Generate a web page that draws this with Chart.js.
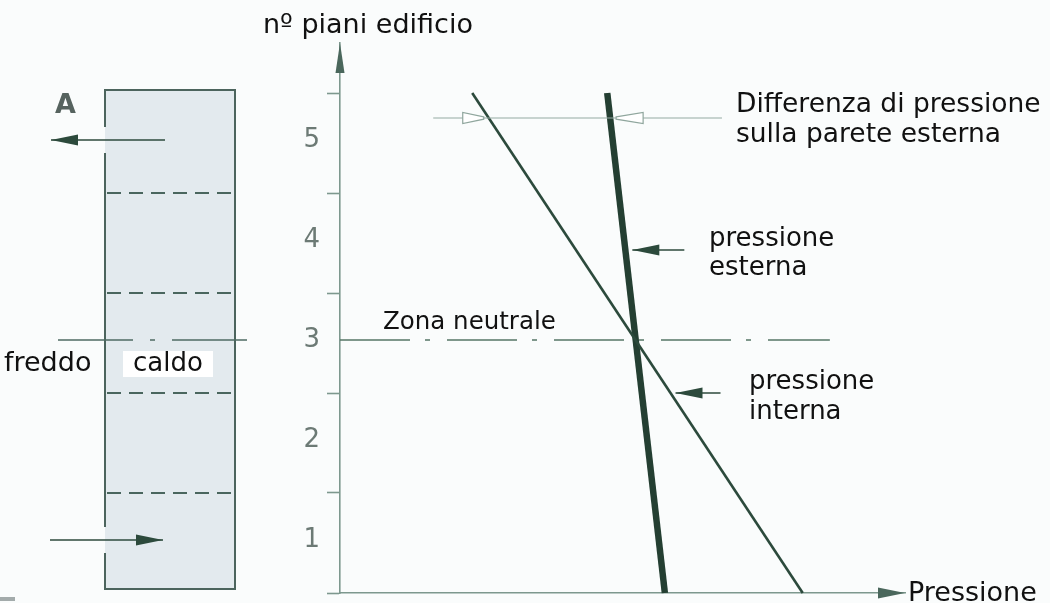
<!DOCTYPE html>
<html><head><meta charset="utf-8">
<script src="https://cdn.jsdelivr.net/npm/chart.js@4/dist/chart.umd.min.js"></script>
<style>html,body{margin:0;padding:0;background:#fafcfc;overflow:hidden}#wrap{width:1050px;height:603px;position:relative}</style>
</head><body><div id="wrap"><canvas id="c" width="1050" height="603"></canvas></div>
<script>
// ---- data ----
const floorLabels = [1, 2, 3, 4, 5];               // nº piani edificio
const floorBounds = [0.5, 1.5, 2.5, 3.5, 4.5, 5.5]; // floor boundaries (tick marks)
const internaX = [81.9, 23.4];   // pressione interna (thin line)
const internaY = [0.5, 5.5];
const esternaX = [57.5, 47.3];   // pressione esterna (thick line)
const esternaY = [0.5, 5.5];
const neutraleX = [0, 86.7];     // zona neutrale
const neutraleY = [3.03, 3.03];
const differenzaX = [16.5, 67.6]; // differenza di pressione
const differenzaY = [5.25, 5.25];
const xLabel = 'Pressione';
const yLabel = 'nº piani edificio';

const LINE = '#2c4a3c';
const AXIS = '#7d988e';
const FONT = '"DejaVu Sans", Verdana, sans-serif';

function pts(xs, ys) { return xs.map((v, i) => ({x: v, y: ys[i]})); }
function xAt(xs, ys, yv) { return xs[0] + (xs[1] - xs[0]) * (yv - ys[0]) / (ys[1] - ys[0]); }

function filledArrow(ctx, tipX, tipY, dir, headLen, halfW, tailLen, color) {
  ctx.save();
  ctx.strokeStyle = color; ctx.fillStyle = color; ctx.lineWidth = 1.5;
  ctx.beginPath(); ctx.moveTo(tipX, tipY); ctx.lineTo(tipX + dir * tailLen, tipY); ctx.stroke();
  ctx.beginPath(); ctx.moveTo(tipX, tipY);
  ctx.lineTo(tipX + dir * headLen, tipY - halfW);
  ctx.lineTo(tipX + dir * headLen, tipY + halfW);
  ctx.closePath(); ctx.fill();
  ctx.restore();
}
function hollowArrow(ctx, tipX, tipY, dir, len, halfW) {
  ctx.save();
  ctx.fillStyle = '#ffffff'; ctx.strokeStyle = '#8fa69d'; ctx.lineWidth = 1.2;
  ctx.beginPath();
  ctx.moveTo(tipX, tipY - 1.2);
  ctx.lineTo(tipX + dir * len, tipY - halfW);
  ctx.lineTo(tipX + dir * len, tipY + halfW);
  ctx.lineTo(tipX, tipY + 1.2);
  ctx.closePath(); ctx.fill(); ctx.stroke();
  ctx.restore();
}

const deco = {
  id: 'deco',
  beforeDraw(chart) {
    const ctx = chart.ctx;
    ctx.save(); ctx.fillStyle = '#fafcfc'; ctx.fillRect(0, 0, chart.width, chart.height); ctx.restore();
  },
  afterDraw(chart) {
    const {ctx, chartArea: a, scales: {x, y}} = chart;
    ctx.save();
    // axis arrowheads
    ctx.fillStyle = '#4a675c';
    ctx.beginPath(); ctx.moveTo(a.left, a.top); ctx.lineTo(a.left - 4.5, a.top + 30); ctx.lineTo(a.left + 4.5, a.top + 30); ctx.closePath(); ctx.fill();
    ctx.beginPath(); ctx.moveTo(a.right, a.bottom); ctx.lineTo(a.right - 27, a.bottom - 5.5); ctx.lineTo(a.right - 27, a.bottom + 5.5); ctx.closePath(); ctx.fill();

    // hollow arrows on the "differenza" line
    const dy = y.getPixelForValue(differenzaY[0]);
    const xi = x.getPixelForValue(xAt(internaX, internaY, differenzaY[0]));
    const xe = x.getPixelForValue(xAt(esternaX, esternaY, differenzaY[0]));
    hollowArrow(ctx, xi - 5, dy, -1, 21, 5.5);
    hollowArrow(ctx, xe + 6, dy, 1, 27, 5.5);

    // label arrows
    const yEst = 3.93, yInt = 2.5;
    const pe = y.getPixelForValue(yEst), pi = y.getPixelForValue(yInt);
    filledArrow(ctx, x.getPixelForValue(xAt(esternaX, esternaY, yEst)) + 7, pe, 1, 27, 5.5, 52, LINE);
    filledArrow(ctx, x.getPixelForValue(xAt(internaX, internaY, yInt)) + 5, pi, 1, 27, 5.5, 45, LINE);

    // texts
    ctx.fillStyle = '#111';
    ctx.textBaseline = 'alphabetic'; ctx.textAlign = 'left';
    ctx.font = '27px ' + FONT;
    ctx.fillText(yLabel, 263, 33);
    ctx.fillText(xLabel, 908, 601);
    ctx.font = '26.5px ' + FONT;
    ctx.fillText('Differenza di pressione', 736, 112);
    ctx.fillText('sulla parete esterna', 736, 142);
    ctx.font = '26px ' + FONT;
    ctx.fillText('pressione', 709, 246);
    ctx.fillText('esterna', 709, 275);
    ctx.fillText('pressione', 749, 389);
    ctx.fillText('interna', 749, 419);
    ctx.font = '24.5px ' + FONT;
    ctx.fillText('Zona neutrale', 383, 329);

    // ---- building section (left) ----
    const L = 105, R = 235;
    const top = y.getPixelForValue(5.53), bot = y.getPixelForValue(0.54);
    ctx.fillStyle = '#e3eaee';
    ctx.fillRect(L, top, R - L, bot - top);
    const aTop = y.getPixelForValue(5.03), aBot = y.getPixelForValue(1.03);
    ctx.strokeStyle = '#4c645d'; ctx.lineWidth = 2;
    ctx.beginPath();
    ctx.moveTo(L, aTop - 13); ctx.lineTo(L, top); ctx.lineTo(R, top); ctx.lineTo(R, bot); ctx.lineTo(L, bot); ctx.lineTo(L, aBot + 13);
    ctx.moveTo(L, aBot - 13); ctx.lineTo(L, aTop + 13);
    ctx.stroke();
    // floor dashed lines
    ctx.strokeStyle = '#4a665e'; ctx.lineWidth = 2.2; ctx.setLineDash([14, 8]);
    floorBounds.slice(1, 5).forEach(v => {
      const py = y.getPixelForValue(v);
      ctx.beginPath(); ctx.moveTo(L + 2, py); ctx.lineTo(R - 2, py); ctx.stroke();
    });
    // neutral line
    const ny = y.getPixelForValue(neutraleY[0]);
    ctx.strokeStyle = '#4f6b63'; ctx.lineWidth = 1.5; ctx.setLineDash([75, 17, 5, 17, 300]);
    ctx.beginPath(); ctx.moveTo(58, ny); ctx.lineTo(247, ny); ctx.stroke();
    ctx.setLineDash([]);
    // flow arrows
    filledArrow(ctx, 51, aTop, 1, 27, 5.5, 114, LINE);
    filledArrow(ctx, 163, aBot, -1, 27, 5.5, 113, LINE);
    // labels
    ctx.fillStyle = '#56635f'; ctx.font = 'bold 27px ' + FONT;
    ctx.fillText('A', 55, 113);
    ctx.fillStyle = '#ffffff'; ctx.fillRect(123, 351, 90, 26);
    ctx.fillStyle = '#111'; ctx.font = '26px ' + FONT;
    ctx.fillText('caldo', 133, 371);
    ctx.font = '27px ' + FONT;
    ctx.fillText('freddo', 4, 371);
    // small mark bottom-left
    ctx.fillStyle = '#a3abab'; ctx.fillRect(0, 597, 15, 4);
    ctx.restore();
  }
};

new Chart(document.getElementById('c'), {
  type: 'scatter',
  data: {
    datasets: [
      {label: 'Differenza di pressione', data: pts(differenzaX, differenzaY), showLine: true, borderColor: '#94aaa1', borderWidth: 1.1, pointRadius: 0, clip: false},
      {label: 'Zona neutrale', data: pts(neutraleX, neutraleY), showLine: true, borderColor: '#557566', borderWidth: 1.6, borderDash: [70, 15, 5, 17], pointRadius: 0, clip: false},
      {label: 'pressione interna', data: pts(internaX, internaY), showLine: true, borderColor: LINE, borderWidth: 2.6, pointRadius: 0, clip: false},
      {label: 'pressione esterna', data: pts(esternaX, esternaY), showLine: true, borderColor: '#243f32', borderWidth: 6.5, borderCapStyle: 'butt', pointRadius: 0, clip: false}
    ]
  },
  options: {
    responsive: false, animation: false, devicePixelRatio: 1,
    layout: {padding: {left: 280, right: 145, top: 43, bottom: 10}},
    plugins: {legend: {display: false}, tooltip: {enabled: false}},
    scales: {
      x: {
        type: 'linear', min: 0, max: 100,
        ticks: {display: false},
        grid: {display: false, drawTicks: false},
        border: {display: true, color: AXIS, width: 1.6},
        afterFit: s => { s.height = 0; s.paddingLeft = 0; s.paddingRight = 0; }
      },
      y: {
        type: 'linear', min: 0.5, max: 6.0,
        afterBuildTicks: s => {
          const vals = floorBounds.concat(floorLabels).sort((p, q) => p - q);
          s.ticks = vals.map(v => ({value: v}));
        },
        ticks: {
          autoSkip: false, padding: 7, labelOffset: -3,
          color: '#6c7a75', font: {family: FONT, size: 26, weight: 'normal'},
          callback: v => floorLabels.includes(v) ? String(v) : ''
        },
        grid: {
          drawOnChartArea: false, drawTicks: true, tickLength: 13, tickWidth: 1.6,
          tickColor: c => (c.tick && floorLabels.includes(c.tick.value)) ? 'rgba(0,0,0,0)' : AXIS
        },
        border: {display: true, color: AXIS, width: 1.6},
        afterFit: s => { s.width = 60; s.paddingTop = 0; s.paddingBottom = 0; }
      }
    }
  },
  plugins: [deco]
});
</script>
</body></html>
